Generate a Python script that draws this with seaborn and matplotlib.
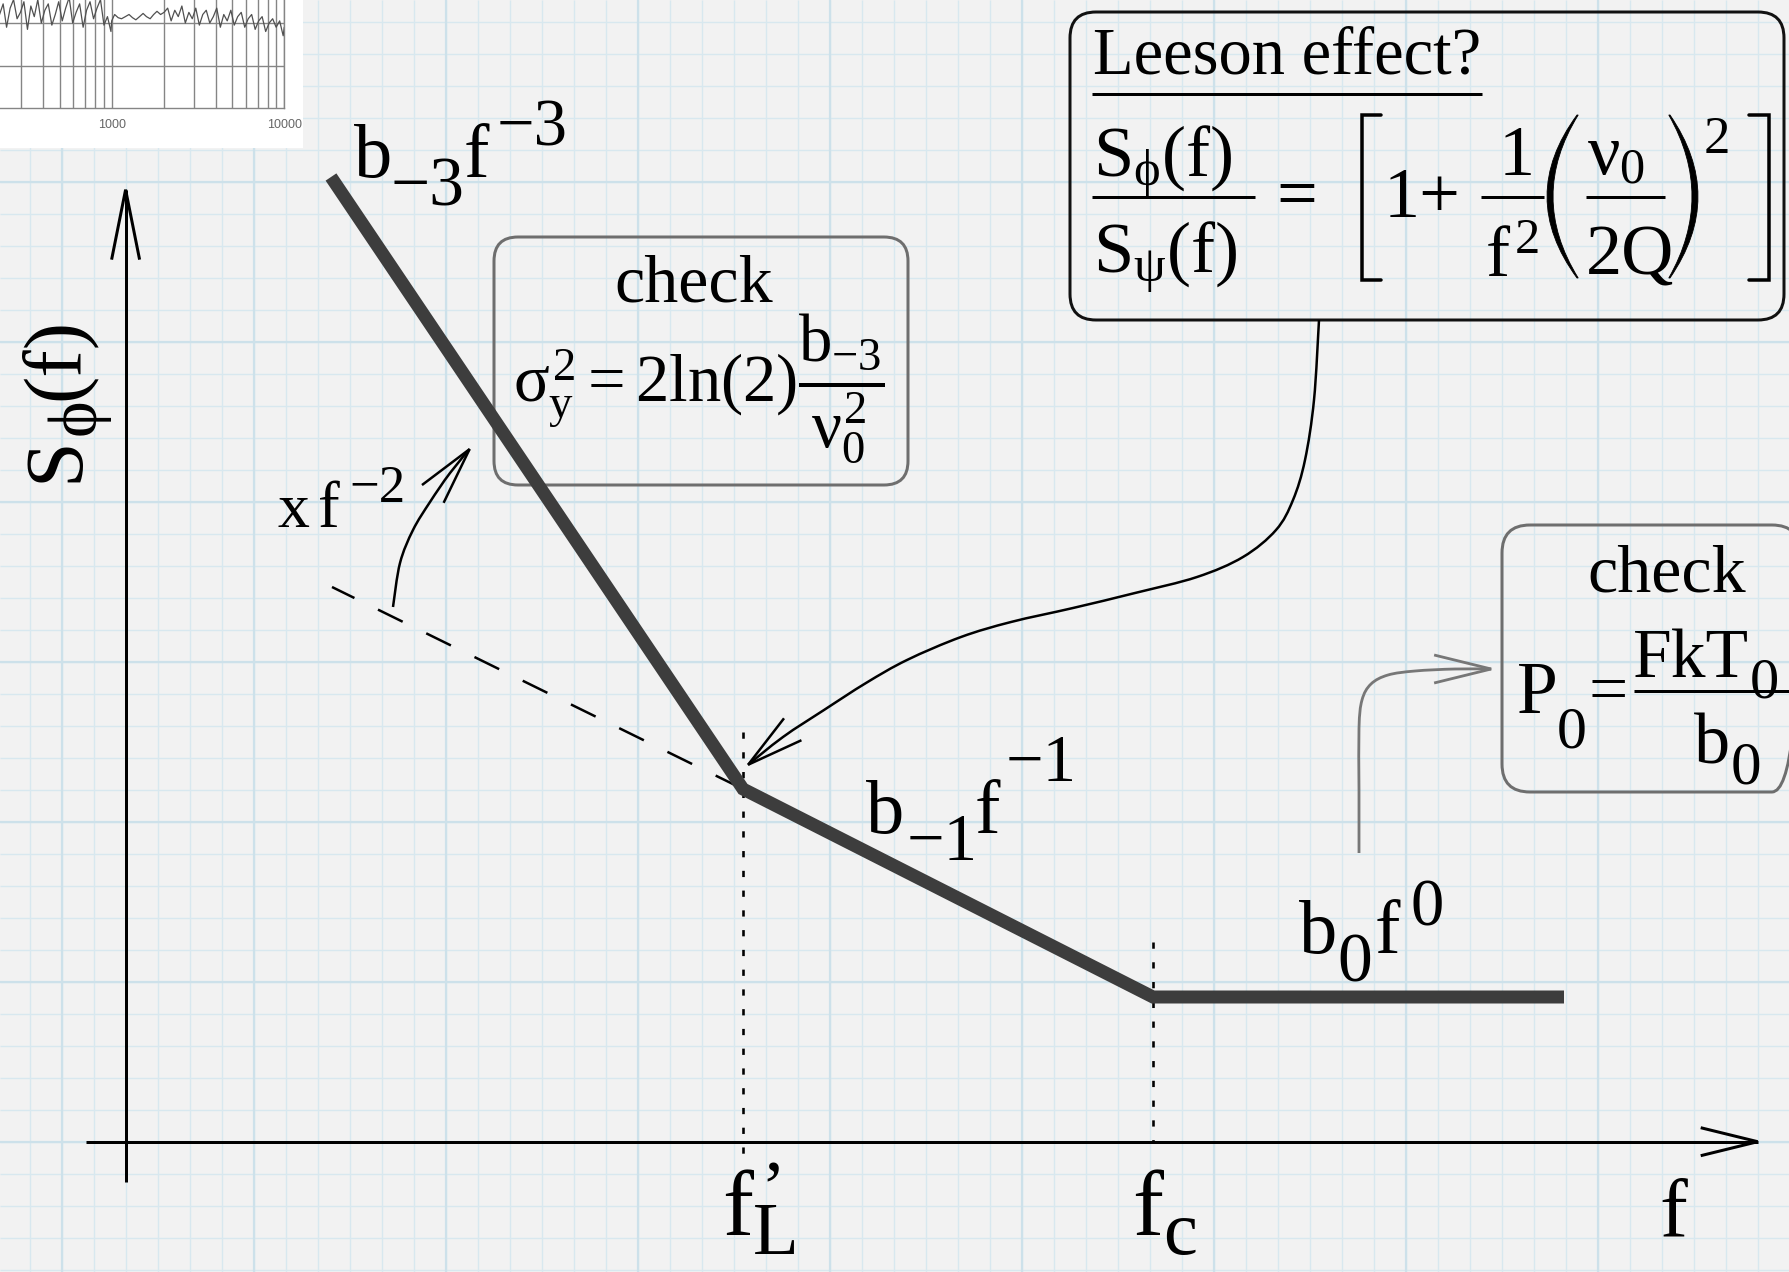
import numpy as np
import matplotlib
matplotlib.use("Agg")
import matplotlib.pyplot as plt
import matplotlib.ticker as mticker
from matplotlib.patches import FancyBboxPatch, FancyArrowPatch, Rectangle, PathPatch
from matplotlib.path import Path
import seaborn as sns

sns.set_style("white")
plt.rcParams.update({
    "font.family": ["Liberation Serif", "DejaVu Serif"],
    "mathtext.fontset": "custom",
    "mathtext.rm": "Liberation Serif",
    "mathtext.it": "Liberation Serif",
    "mathtext.bf": "Liberation Serif:bold",
    "mathtext.sf": "Liberation Serif",
    "mathtext.fallback": "stix",
})

W, H = 1790, 1272          # canvas units (x to the right, y downward)
PX = 72 / 100              # points per canvas unit at dpi 100

# ---- piecewise power-law phase-noise spectrum ----
spectrum_f = [331, 743, 1153, 1564]
spectrum_s = [177, 789, 997, 997]
# f^-1 slope continued to low frequency (dashed)
extension_f = [332, 743]
extension_s = [587, 789]
# corner frequencies and their dotted markers
corner_f = [743, 1153]
corner_top = [732, 942]
corner_bottom = [1158, 1141]

# ---- measured spectrum thumbnail (log frequency, dB) ----
thumb_freq = [140, 147, 155, 162, 170, 178, 186, 195, 204, 214,
              224, 235, 246, 258, 270, 283, 296, 310, 325, 340,
              356, 373, 391, 410, 429, 450, 471, 493, 517, 541,
              567, 594, 622, 652, 683, 715, 749, 785, 822, 861,
              902, 945, 990,
              1000, 1040, 1090, 1140, 1200, 1260, 1320, 1380, 1450, 1520,
              1590, 1670, 1750, 1830, 1920, 2010,
              2110, 2210, 2320, 2430, 2550, 2670, 2800, 2930, 3070, 3220,
              3370, 3530, 3700, 3880, 4060, 4260, 4460, 4670, 4900, 5130,
              5370, 5630, 5900, 6180, 6470, 6780, 7100, 7440, 7800, 8170,
              8560, 8970, 9400, 9850, 10000]
thumb_level = [-112, -118, -109, -121, -113, -110, -119, -114, -108, -120,
               -116, -111, -122, -113, -109, -118, -115, -110, -123, -112,
               -117, -109, -120, -114, -111, -121, -116, -110, -119, -113,
               -108, -120, -115, -111, -122, -114, -110, -118, -113, -109,
               -121, -117, -124,
               -119, -116, -117.5, -118, -117, -116, -117.5, -118.5, -117, -115.5,
               -117, -118, -116, -114.5, -116, -115,
               -113, -119, -114, -117, -112, -120, -115, -118, -113, -121,
               -116, -114, -120, -117, -113, -122, -116, -119, -114, -121,
               -117, -115, -122, -118, -116, -123, -119, -117, -124, -120,
               -118, -122, -119, -126, -122]
thumb_ticks = [1000, 10000]
thumb_ticklabels = ["1000", "10000"]


def smooth_path(points):
    """Catmull-Rom curve through the given points, as cubic Bezier segments."""
    p = np.asarray(points, float)
    n = len(p)
    verts, codes = [p[0]], [Path.MOVETO]
    for i in range(n - 1):
        a = p[i - 1] if i > 0 else p[i]
        b, c = p[i], p[i + 1]
        d = p[i + 2] if i + 2 < n else p[i + 1]
        verts += [b + (c - a) / 6, c - (d - b) / 6, c]
        codes += [Path.CURVE4] * 3
    return Path(verts, codes)


def arrow(ax, path, color, lw, head_len, head_w, z=5):
    style = f"->,head_length={head_len * PX:.2f},head_width={head_w * PX:.2f}"
    ax.add_patch(FancyArrowPatch(path=path, arrowstyle=style, mutation_scale=1,
                                 color=color, lw=lw * PX, transform=ax.transData,
                                 zorder=z, joinstyle="miter", capstyle="butt"))


def rounded_box(ax, x0, y0, x1, y1, ec, lw, r):
    ax.add_patch(FancyBboxPatch((x0, y0), x1 - x0, y1 - y0,
                                boxstyle=f"round,pad=0,rounding_size={r}",
                                fc="none", ec=ec, lw=lw * PX,
                                transform=ax.transData, zorder=2))


def paren(ax, x_tip, x_belly, y0, y1, thick, side):
    """Tall parenthesis drawn as a crescent; side=-1 for '(' and +1 for ')'."""
    ym = (y0 + y1) / 2
    xi = x_tip - side * 1.2
    c_out = 2 * x_belly - x_tip
    c_in = 2 * (x_belly - side * thick) - xi
    verts = [(x_tip, y0), (c_out, ym), (x_tip, y1), (xi, y1), (c_in, ym),
             (xi, y0), (x_tip, y0)]
    codes = [Path.MOVETO, Path.CURVE3, Path.CURVE3, Path.LINETO, Path.CURVE3,
             Path.CURVE3, Path.CLOSEPOLY]
    ax.add_patch(PathPatch(Path(verts, codes), fc="black", ec="black", lw=0.6,
                           transform=ax.transData, zorder=6))


fig = plt.figure(figsize=(W / 100, H / 100), dpi=100)
fig.patch.set_facecolor("#f2f2f2")
ax = fig.add_axes([0, 0, 1, 1])
ax.set_xlim(0, W)
ax.set_ylim(H, 0)
ax.axis("off")


def put(x, y, s, size, **extra):
    opts = dict(fontsize=size, ha="left", va="baseline", color="black", zorder=6)
    opts.update(extra)
    return ax.text(x, y, s, **opts)


def hbar(x0, x1, y, lw=3):
    ax.plot([x0, x1], [y, y], color="black", lw=lw * PX, zorder=6,
            solid_capstyle="butt")


# squared paper
gx = np.arange(30, W, 32)
gy = np.arange(21.7, H, 32)
ax.vlines(gx, 0, H, color="#d8e8ef", lw=1.4 * PX, zorder=0)
ax.hlines(gy, 0, W, color="#d8e8ef", lw=1.4 * PX, zorder=0)
ax.vlines(gx[1::6], 0, H, color="#cde1ea", lw=2.2 * PX, zorder=0)
ax.hlines(gy[5::5], 0, W, color="#cde1ea", lw=2.2 * PX, zorder=0)

# thumbnail of a measured spectrum in the corner
ax.add_patch(Rectangle((0, 0), 303, 148, fc="white", ec="none", zorder=1))
lo = 10 ** (3 - 151.7 / 172.6)
ins = fig.add_axes([-40 / W, 1 - 108 / H, 324.3 / W, 148 / H])
ins.set_facecolor("white")
ins.set_xscale("log")
ins.set_xlim(lo, 1e4)
ins.set_ylim(-160, -160 + 148 / 42.5 * 20)
sns.lineplot(x=thumb_freq, y=thumb_level, ax=ins, color="#505050", lw=0.9,
             estimator=None, sort=False, zorder=3)
ins.xaxis.set_major_locator(mticker.FixedLocator(thumb_ticks))
ins.xaxis.set_major_formatter(mticker.FixedFormatter(thumb_ticklabels))
ins.xaxis.set_minor_locator(mticker.LogLocator(base=10, subs=np.arange(2, 10)))
ins.xaxis.set_minor_formatter(mticker.NullFormatter())
ins.set_yticks([-140, -120])
ins.set_yticklabels([])
ins.tick_params(axis="y", length=0)
ins.tick_params(axis="x", which="major", length=4, color="#888888",
                labelsize=9, labelcolor="#666666", pad=4)
for lab in ins.get_xticklabels():
    lab.set_family("Liberation Sans")
ins.tick_params(axis="x", which="minor", length=0)
ins.grid(True, which="both", axis="x", color="#858585", lw=1.0)
ins.grid(True, which="major", axis="y", color="#858585", lw=1.0)
for side in ["top", "left"]:
    ins.spines[side].set_visible(False)
for side in ["bottom", "right"]:
    ins.spines[side].set_color("#858585")
    ins.spines[side].set_linewidth(1.0)
ins.set_xlabel("")
ins.set_ylabel("")

# coordinate axes
arrow(ax, Path([(86, 1141.7), (1764, 1141.7)]), "black", 3, 57, 14, z=3)
arrow(ax, Path([(125.6, 1182), (125.6, 182)]), "black", 3, 70, 14, z=3)

# dotted markers at the corner frequencies
for f, y0, y1 in zip(corner_f, corner_top, corner_bottom):
    ax.plot([f, f], [y0, y1], color="black", lw=2.6 * PX,
            ls=(0, (2.4, 5.2)), zorder=3)

# extrapolated slope
sns.lineplot(x=extension_f, y=extension_s, ax=ax, color="black", lw=2.5 * PX,
             estimator=None, sort=False, zorder=3,
             linestyle=(1.0, (11, 10.5)))

# spectrum
sns.lineplot(x=spectrum_f, y=spectrum_s, ax=ax, color="#3d3d3d", lw=13 * PX,
             estimator=None, sort=False, zorder=4,
             solid_joinstyle="miter", solid_capstyle="butt")
ax.set_xlim(0, W)
ax.set_ylim(H, 0)

# boxes
rounded_box(ax, 494, 237, 908, 485, "#6e6e6e", 3, 24)
rounded_box(ax, 1070, 12, 1784, 320, "#111111", 3, 26)
rounded_box(ax, 1502, 525, 1800, 792, "#6e6e6e", 3, 28)

# annotation arrows
arrow(ax, smooth_path([(1319, 320), (1314, 400), (1305, 460), (1293, 500),
                       (1276, 530), (1243, 557), (1197, 577), (1135, 593),
                       (1073, 608), (1011, 622), (961, 637), (907, 660),
                       (866, 683), (824, 710), (783, 737), (744, 768)]),
      "black", 2.5, 57, 14)
arrow(ax, smooth_path([(393, 607), (400, 563), (413, 530), (430, 502),
                       (450, 473), (473, 445)]),
      "black", 2.5, 58, 14)
arrow(ax, smooth_path([(1359, 853), (1359, 790), (1359, 728), (1362, 700),
                       (1371, 684), (1388, 675), (1415, 671), (1455, 669),
                       (1497, 669)]),
      "#777777", 2.8, 57, 14)

# ---- sigma_y^2 check box ----
put(694, 302, "check", 49, ha="center")
put(513, 402, r"$\sigma_{y}^{2}{=}2\ln(2)\dfrac{b_{-3}}{\nu_{0}^{2}}$", 48)

# ---- Leeson box ----
put(1093, 73, "Leeson effect?", 48)
hbar(1092, 1482, 94)
put(1093, 177, r"$S_{\phi}(f)$", 52)
hbar(1092, 1255, 197)
put(1093, 273, r"$S_{\psi}(f)$", 52)
put(1276, 217, "=", 52)
ax.plot([1381, 1362, 1362, 1381], [115, 115, 280, 280], color="black",
        lw=3.5 * PX, solid_joinstyle="miter", zorder=6)
put(1384, 217, "1+", 52)
put(1499, 175, "1", 52)
hbar(1481, 1544, 197)
put(1485, 277, r"$f^{2}$", 52)
paren(ax, 1577, 1547, 115, 278, 6, -1)
put(1587, 175, r"$\nu_{0}$", 52)
hbar(1586, 1665, 197)
put(1586, 275, "2Q", 52)
paren(ax, 1670, 1698, 115, 278, 6, 1)
put(1704, 153, "2", 38)
ax.plot([1749, 1769, 1769, 1749], [115, 115, 280, 280], color="black",
        lw=3.5 * PX, solid_joinstyle="miter", zorder=6)

# ---- P_0 check box ----
put(1667, 592, "check", 49, ha="center")
put(1517, 713, "P", 53)
put(1557, 748, "0", 43)
put(1589, 712, "=", 50)
hbar(1634, 1790, 691)
put(1633, 677, "FkT", 50)
put(1750, 698, "0", 42)
put(1694, 763, "b", 52)
put(1731, 784, "0", 44)

# ---- slope labels ----
put(354, 177, "b", 55)
put(391, 205, "\u22123", 50)
put(464, 177, "f", 55)
put(497, 146, "\u22123", 48)

put(866, 833, "b", 55)
put(907, 860, "\u22121", 48)
put(975, 833, "f", 55)
put(1006, 781, "\u22121", 48)

put(1299, 953, "b", 55)
put(1337, 981, "0", 50)
put(1375, 953, "f", 55)
put(1411, 925, "0", 48)

put(278, 527, "x", 46)
put(318, 527, "f", 47)
put(349, 502, "\u22122", 38)

# ---- axis labels ----
put(722, 1235, "f", 67)
put(753, 1254, "L", 54)
put(760, 1212, "\u2019", 54)
put(1132, 1235, "f", 67)
put(1163, 1254, "c", 55)
put(1659, 1237, "f", 60)

rot = dict(rotation=90, rotation_mode="anchor")
put(78, 482, "S", 59, **rot)
put(97, 438, r"$\phi$", 50, **rot)
put(78, 400, "(f)", 59, **rot)

fig.savefig("out.png", dpi=100, facecolor=fig.get_facecolor())
